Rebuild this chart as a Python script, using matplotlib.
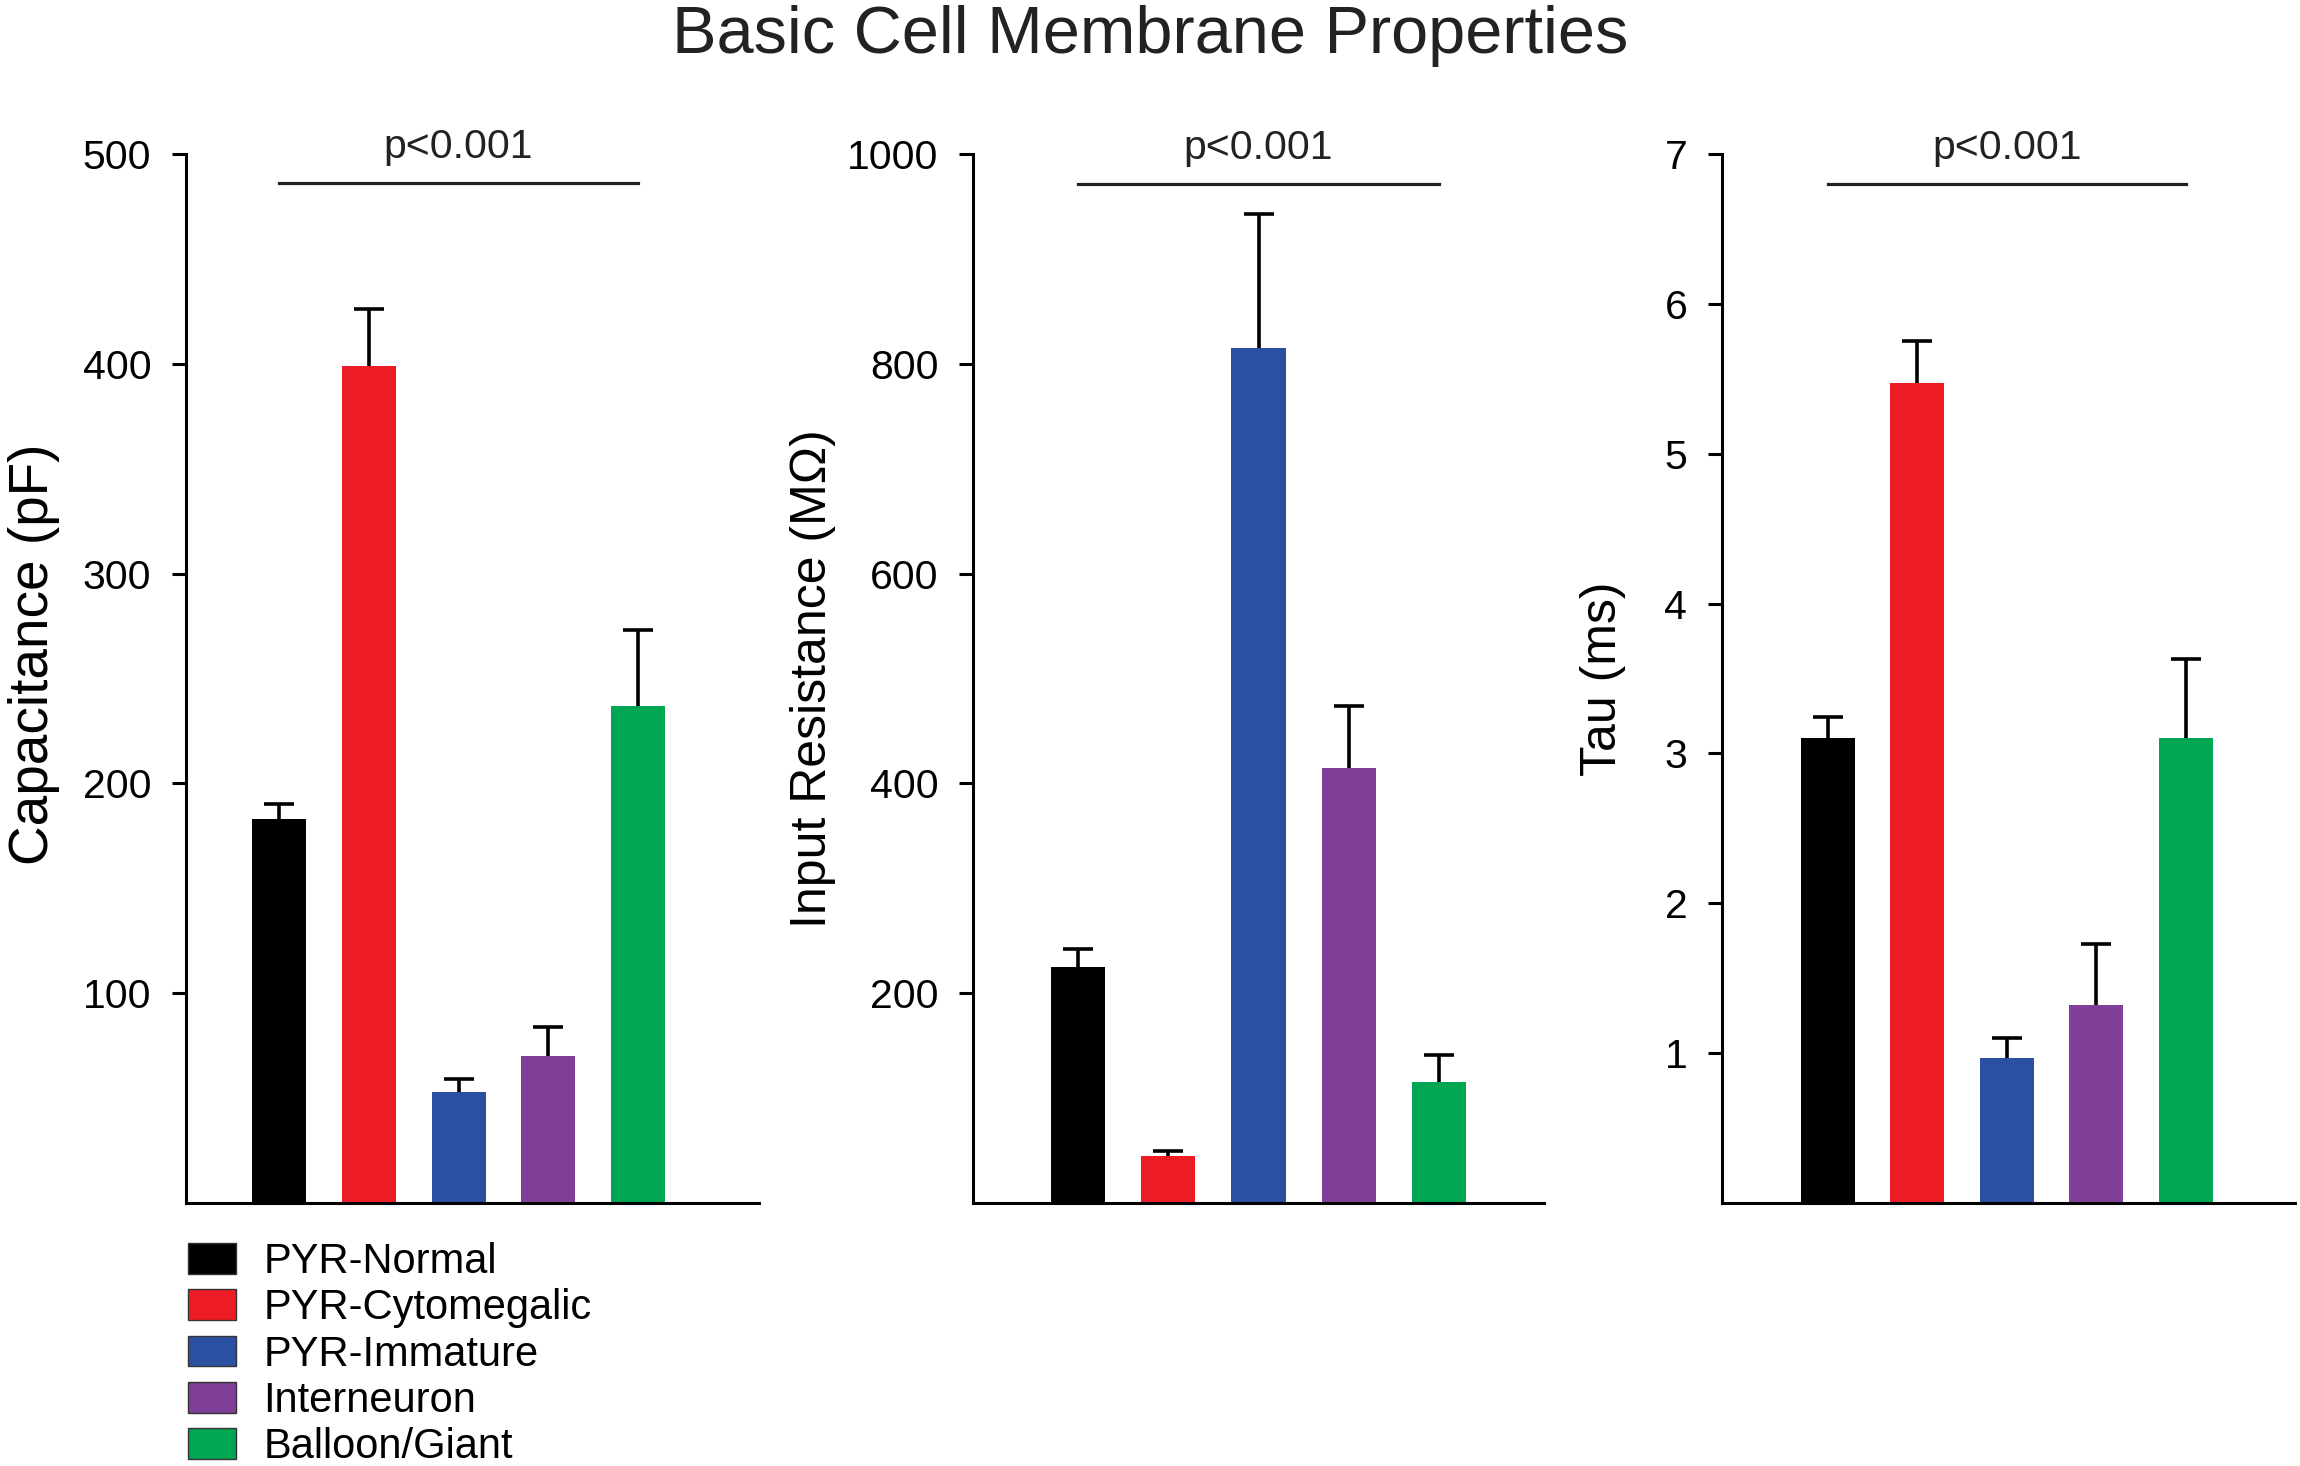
import matplotlib
matplotlib.use('Agg')
import matplotlib.pyplot as plt
import numpy as np

plt.rcParams['font.family'] = ['Liberation Sans', 'DejaVu Sans']

groups = ['PYR-Normal', 'PYR-Cytomegalic', 'PYR-Immature', 'Interneuron', 'Balloon/Giant']
colors = ['#000000', '#ED1C24', '#2B50A2', '#803F98', '#00A651']

capacitance = [183, 399, 53, 70, 237]
capacitance_sem = [7, 27, 6, 14, 36]

resistance = [225, 45, 815, 415, 115]
resistance_sem = [17, 5, 128, 59, 26]

tau = [3.10, 5.47, 0.97, 1.32, 3.10]
tau_sem = [0.14, 0.28, 0.13, 0.41, 0.53]

# label, values, sem, ticks, ymax, significance-bar height, xlim
panels = [
    ('Capacitance (pF)', capacitance, capacitance_sem, [100, 200, 300, 400, 500], 500, 486, (-1.04, 5.35)),
    ('Input Resistance (M\u03a9)', resistance, resistance_sem, [200, 400, 600, 800, 1000], 1000, 971, (-1.17, 5.17)),
    ('Tau (ms)', tau, tau_sem, [1, 2, 3, 4, 5, 6, 7], 7, 6.8, (-1.18, 5.22)),
]
# ylabel tweaks: fontsize, labelpad, vertical centre (axes fraction)
label_style = [(39.5, 16, 0.523), (36, 8, 0.5), (36, 28, 0.5)]
sig_text = 'p<0.001'

W, H = 2300, 1466
fig = plt.figure(figsize=(23, 14.66), dpi=100)

# axes boxes in pixels: left, right
boxes = [(186, 759), (973, 1544), (1722, 2295)]
top_px, bottom_px = 154, 1203

x = np.arange(len(groups))
axes = []
for (label, vals, sem, ticks, ymax, sig_y, xlim), (l, r), (lfs, lpad, ly) in zip(panels, boxes, label_style):
    ax = fig.add_axes([l / W, 1 - bottom_px / H, (r - l) / W, (bottom_px - top_px) / H])
    axes.append(ax)
    bars = ax.bar(x, vals, width=0.6, color=colors,
                  yerr=[np.zeros(len(vals)), sem],
                  error_kw=dict(ecolor='black', elinewidth=2.6, capsize=11, capthick=2.6))
    # hide the lower cap sitting on top of each bar
    caps = bars.errorbar.lines[1]
    if len(caps) > 1:
        caps[0].set_visible(False)
    ax.set_xlim(*xlim)
    ax.set_ylim(0, ymax)
    ax.set_yticks(ticks)
    ax.set_xticks([])
    for s in ['top', 'right']:
        ax.spines[s].set_visible(False)
    ax.spines['left'].set_linewidth(2.2)
    ax.spines['bottom'].set_linewidth(2.2)
    ax.tick_params(axis='y', length=10, width=2.2, pad=15, labelsize=29.5)
    ax.set_ylabel(label, fontsize=lfs, labelpad=lpad)
    ax.yaxis.label.set_y(ly)

    # significance bar
    ax.plot([0, 4], [sig_y, sig_y], color='#222222', lw=2.3, clip_on=False)
    ax.annotate(sig_text, xy=(2, sig_y), xytext=(0, 18), textcoords='offset points',
                ha='center', va='baseline', fontsize=29.5, color='#222222',
                annotation_clip=False)

    if ax is axes[0]:
        handles = bars.patches

fig.text(0.5, 1 - 53 / H, 'Basic Cell Membrane Properties', ha='center', va='baseline',
         fontsize=48, color='#222222')

leg = fig.legend(handles, groups, loc='upper left',
                 bbox_to_anchor=(188 / W, 1 - 1242 / H),
                 frameon=False, fontsize=30, handlelength=1.15, handleheight=0.76,
                 handletextpad=0.66, labelspacing=0.15, borderpad=0, borderaxespad=0)
for p in leg.get_patches():
    p.set_edgecolor('#333333')
    p.set_linewidth(1.0)

fig.savefig('out.png', dpi=100)
